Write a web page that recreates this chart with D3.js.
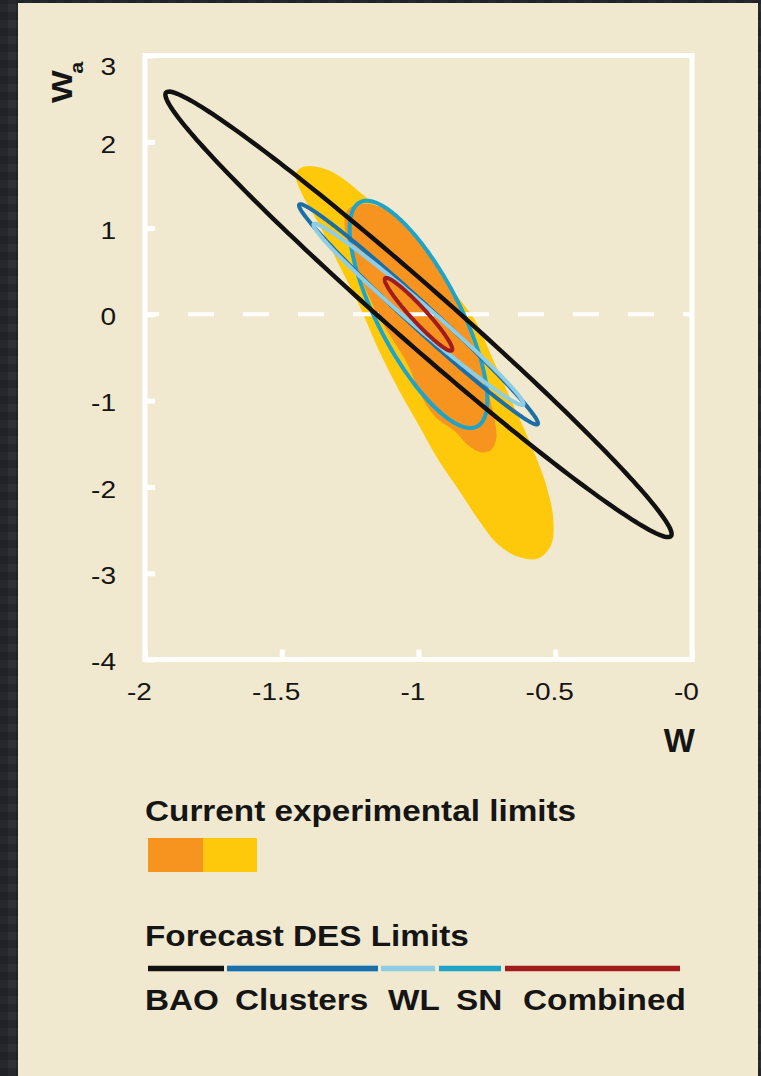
<!DOCTYPE html>
<html>
<head>
<meta charset="utf-8">
<script src="https://cdn.jsdelivr.net/npm/d3@7"></script>
<style>
  html, body { margin: 0; padding: 0; }
  body {
    width: 761px; height: 1076px; overflow: hidden; position: relative;
    background-color: #2d3037;
    background-image:
      repeating-linear-gradient(0deg, rgba(0,0,0,0.16) 0 8px, transparent 8px 16px),
      repeating-linear-gradient(90deg, rgba(0,0,0,0.16) 0 8px, transparent 8px 16px);
  }
  #panel { position: absolute; left: 18px; top: 3px; width: 740px; height: 1073px; background: #f1e9cf; }
  svg { position: absolute; left: 0; top: 0; }
</style>
</head>
<body>
<div id="panel"></div>
<svg id="chart" width="761" height="1076"></svg>
<script>
// ---- Axis ticks ----
const xTicks = [-2, -1.5, -1, -0.5, 0];
const xTickLabels = ["-2", "-1.5", "-1", "-0.5", "-0"];
const yTicks = [3, 2, 1, 0, -1, -2, -3, -4];
const yTickLabels = ["3", "2", "1", "0", "-1", "-2", "-3", "-4"];

// ---- Current experimental limits: boundary points (w, wa) ----
const currentOuter = [
  [-1.42, 1.71], [-1.347, 1.69], [-1.274, 1.57], [-1.201, 1.38], [-1.109, 1.13],
  [-1.000, 0.76], [-0.890, 0.33], [-0.795, -0.06], [-0.728, -0.52], [-0.662, -0.99],
  [-0.597, -1.45], [-0.533, -1.98], [-0.507, -2.38], [-0.515, -2.67], [-0.562, -2.83],
  [-0.635, -2.81], [-0.708, -2.67], [-0.781, -2.38], [-0.854, -2.03], [-0.927, -1.69],
  [-1.0, -1.28], [-1.073, -0.87], [-1.146, -0.41], [-1.219, 0.12], [-1.292, 0.58],
  [-1.365, 1.05], [-1.431, 1.43], [-1.449, 1.63]
];
const currentInner = [
  [-1.248, 1.24], [-1.182, 1.28], [-1.109, 1.20], [-1.036, 0.99], [-0.964, 0.73],
  [-0.909, 0.47], [-0.865, 0.17], [-0.825, -0.12], [-0.792, -0.41], [-0.755, -0.79],
  [-0.726, -1.16], [-0.715, -1.43], [-0.734, -1.57], [-0.770, -1.60], [-0.818, -1.52],
  [-0.865, -1.36], [-0.938, -1.19], [-0.993, -0.93], [-1.036, -0.60], [-1.091, -0.31],
  [-1.146, -0.02], [-1.201, 0.35], [-1.248, 0.73], [-1.270, 1.01], [-1.266, 1.17]
];

// ---- Forecast DES limits: ellipse centre and two conjugate semi-axes (dw, dwa) ----
const forecastNames = ["BAO", "Clusters", "WL", "SN", "Combined"];
const forecastCenterW  = [-1, -1, -1, -1, -1];
const forecastCenterWa = [0, 0, 0, 0, 0];
const forecastMajor = [[-0.923, 2.570], [-0.436, 1.273], [-0.383, 1.047], [0.215, -1.297], [-0.122, 0.419]];
const forecastMinor = [[0.067, 0.245], [0.030, 0.103], [0.026, 0.097], [-0.131, -0.226], [0.020, 0.059]];

// ---- Styling ----
const colors = {
  BAO: "#111111", Clusters: "#1b6ea6", WL: "#8dcde5", SN: "#1ea3c9", Combined: "#a31c1c",
  outer: "#ffc90b", inner: "#f7941f", frame: "#ffffff", text: "#151515"
};
const drawOrder = ["SN", "Clusters", "WL", "Combined", "BAO"];

const svg = d3.select("#chart");
const plot = { left: 145, right: 692, top: 55.5, bottom: 659.5 };

const x = d3.scaleLinear().domain([-2, 0]).range([plot.left, plot.right]);
const y = d3.scaleLinear().domain([-4, 3]).range([plot.bottom, plot.top]);

const line = d3.line().x(d => x(d[0])).y(d => y(d[1]));

// Current limits (filled regions)
svg.append("path")
  .attr("d", line.curve(d3.curveCatmullRomClosed.alpha(0.5))(currentOuter))
  .attr("fill", colors.outer);
svg.append("path")
  .attr("d", line.curve(d3.curveCatmullRomClosed.alpha(0.5))(currentInner))
  .attr("fill", colors.inner);

// w_a = 0 reference line
svg.append("line")
  .attr("x1", x(-2)).attr("x2", x(0)).attr("y1", y(0)).attr("y2", y(0))
  .attr("stroke", colors.frame).attr("stroke-width", 4)
  .attr("stroke-dasharray", "26 29").attr("stroke-dashoffset", 12);

// Forecast ellipses
function ellipse(i) {
  const pts = [];
  const n = 240;
  for (let k = 0; k < n; k++) {
    const t = 2 * Math.PI * k / n;
    pts.push([
      forecastCenterW[i] + Math.cos(t) * forecastMajor[i][0] + Math.sin(t) * forecastMinor[i][0],
      forecastCenterWa[i] + Math.cos(t) * forecastMajor[i][1] + Math.sin(t) * forecastMinor[i][1]
    ]);
  }
  return pts;
}
const ellipseLine = d3.line().x(d => x(d[0])).y(d => y(d[1])).curve(d3.curveLinearClosed);
drawOrder.forEach(name => {
  const i = forecastNames.indexOf(name);
  svg.append("path")
    .attr("d", ellipseLine(ellipse(i)))
    .attr("fill", "none")
    .attr("stroke", colors[name])
    .attr("stroke-width", name === "BAO" ? 4.5 : 4);
});

// Frame
svg.append("rect")
  .attr("x", plot.left).attr("y", plot.top)
  .attr("width", plot.right - plot.left).attr("height", plot.bottom - plot.top)
  .attr("fill", "none").attr("stroke", colors.frame).attr("stroke-width", 5);

// Axes with inward ticks
const font = "'Liberation Sans', Arial, Helvetica, sans-serif";
const tickSx = 1.22;

const yAxis = d3.axisLeft(y).tickValues(yTicks)
  .tickFormat((d, i) => yTickLabels[i])
  .tickSizeInner(-10).tickSizeOuter(0).tickPadding(29);
const gy = svg.append("g").attr("transform", `translate(${plot.left},0)`).call(yAxis);
gy.select(".domain").remove();
gy.selectAll(".tick line").attr("stroke", colors.frame).attr("stroke-width", 5);
gy.selectAll(".tick text")
  .attr("font-family", font).attr("font-size", 23).attr("fill", colors.text)
  .attr("x", -29 / tickSx).attr("dy", "0.45em")
  .attr("transform", `scale(${tickSx},1)`)
  .attr("y", d => Math.max(0, plot.top + 9 - y(d)));

const xAxis = d3.axisBottom(x).tickValues(xTicks)
  .tickFormat((d, i) => xTickLabels[i])
  .tickSizeInner(-10).tickSizeOuter(0).tickPadding(24);
const gx = svg.append("g").attr("transform", `translate(0,${plot.bottom})`).call(xAxis);
gx.select(".domain").remove();
gx.selectAll(".tick line").attr("stroke", colors.frame).attr("stroke-width", 5);
gx.selectAll(".tick text")
  .attr("font-family", font).attr("font-size", 23).attr("fill", colors.text)
  .attr("x", -6 / tickSx)
  .attr("transform", `scale(${tickSx},1)`);

// Axis titles
svg.append("text")
  .attr("x", 695).attr("y", 752).attr("text-anchor", "end")
  .attr("font-family", font).attr("font-weight", "bold").attr("font-size", 33)
  .attr("fill", colors.text).text("W");

const yTitle = svg.append("text")
  .attr("transform", "translate(72,103) rotate(-90) scale(1.2,1)")
  .attr("font-family", font).attr("font-weight", "bold").attr("fill", colors.text);
yTitle.append("tspan").attr("font-size", 29).text("W");
yTitle.append("tspan").attr("font-size", 18).attr("dx", -3).attr("dy", 11).text("a");

// Legend
const legendSx = 1.11;
function legendText(tx, ty, str) {
  svg.append("text")
    .attr("transform", `translate(${tx},${ty}) scale(${legendSx},1)`)
    .attr("font-family", font).attr("font-weight", "bold").attr("font-size", 30)
    .attr("fill", colors.text).text(str);
}

legendText(145, 821, "Current experimental limits");
svg.append("rect").attr("x", 148).attr("y", 838).attr("width", 55).attr("height", 34).attr("fill", colors.inner);
svg.append("rect").attr("x", 203).attr("y", 838).attr("width", 54).attr("height", 34).attr("fill", colors.outer);

legendText(145, 946, "Forecast DES Limits");

const legendSeg = {
  BAO: [148, 224, 145], Clusters: [227, 378, 235], WL: [381, 435, 388],
  SN: [439, 501, 456], Combined: [505, 680, 523]
};
svg.append("line").attr("x1", 227).attr("x2", 378).attr("y1", 968.5).attr("y2", 968.5)
  .attr("stroke", "#bfe3f1").attr("stroke-width", 7);
forecastNames.forEach(name => {
  const [a, b, tx] = legendSeg[name];
  svg.append("line").attr("x1", a).attr("x2", b).attr("y1", 968.5).attr("y2", 968.5)
    .attr("stroke", colors[name]).attr("stroke-width", 5.5);
  legendText(tx, 1010, name);
});
</script>
</body>
</html>
